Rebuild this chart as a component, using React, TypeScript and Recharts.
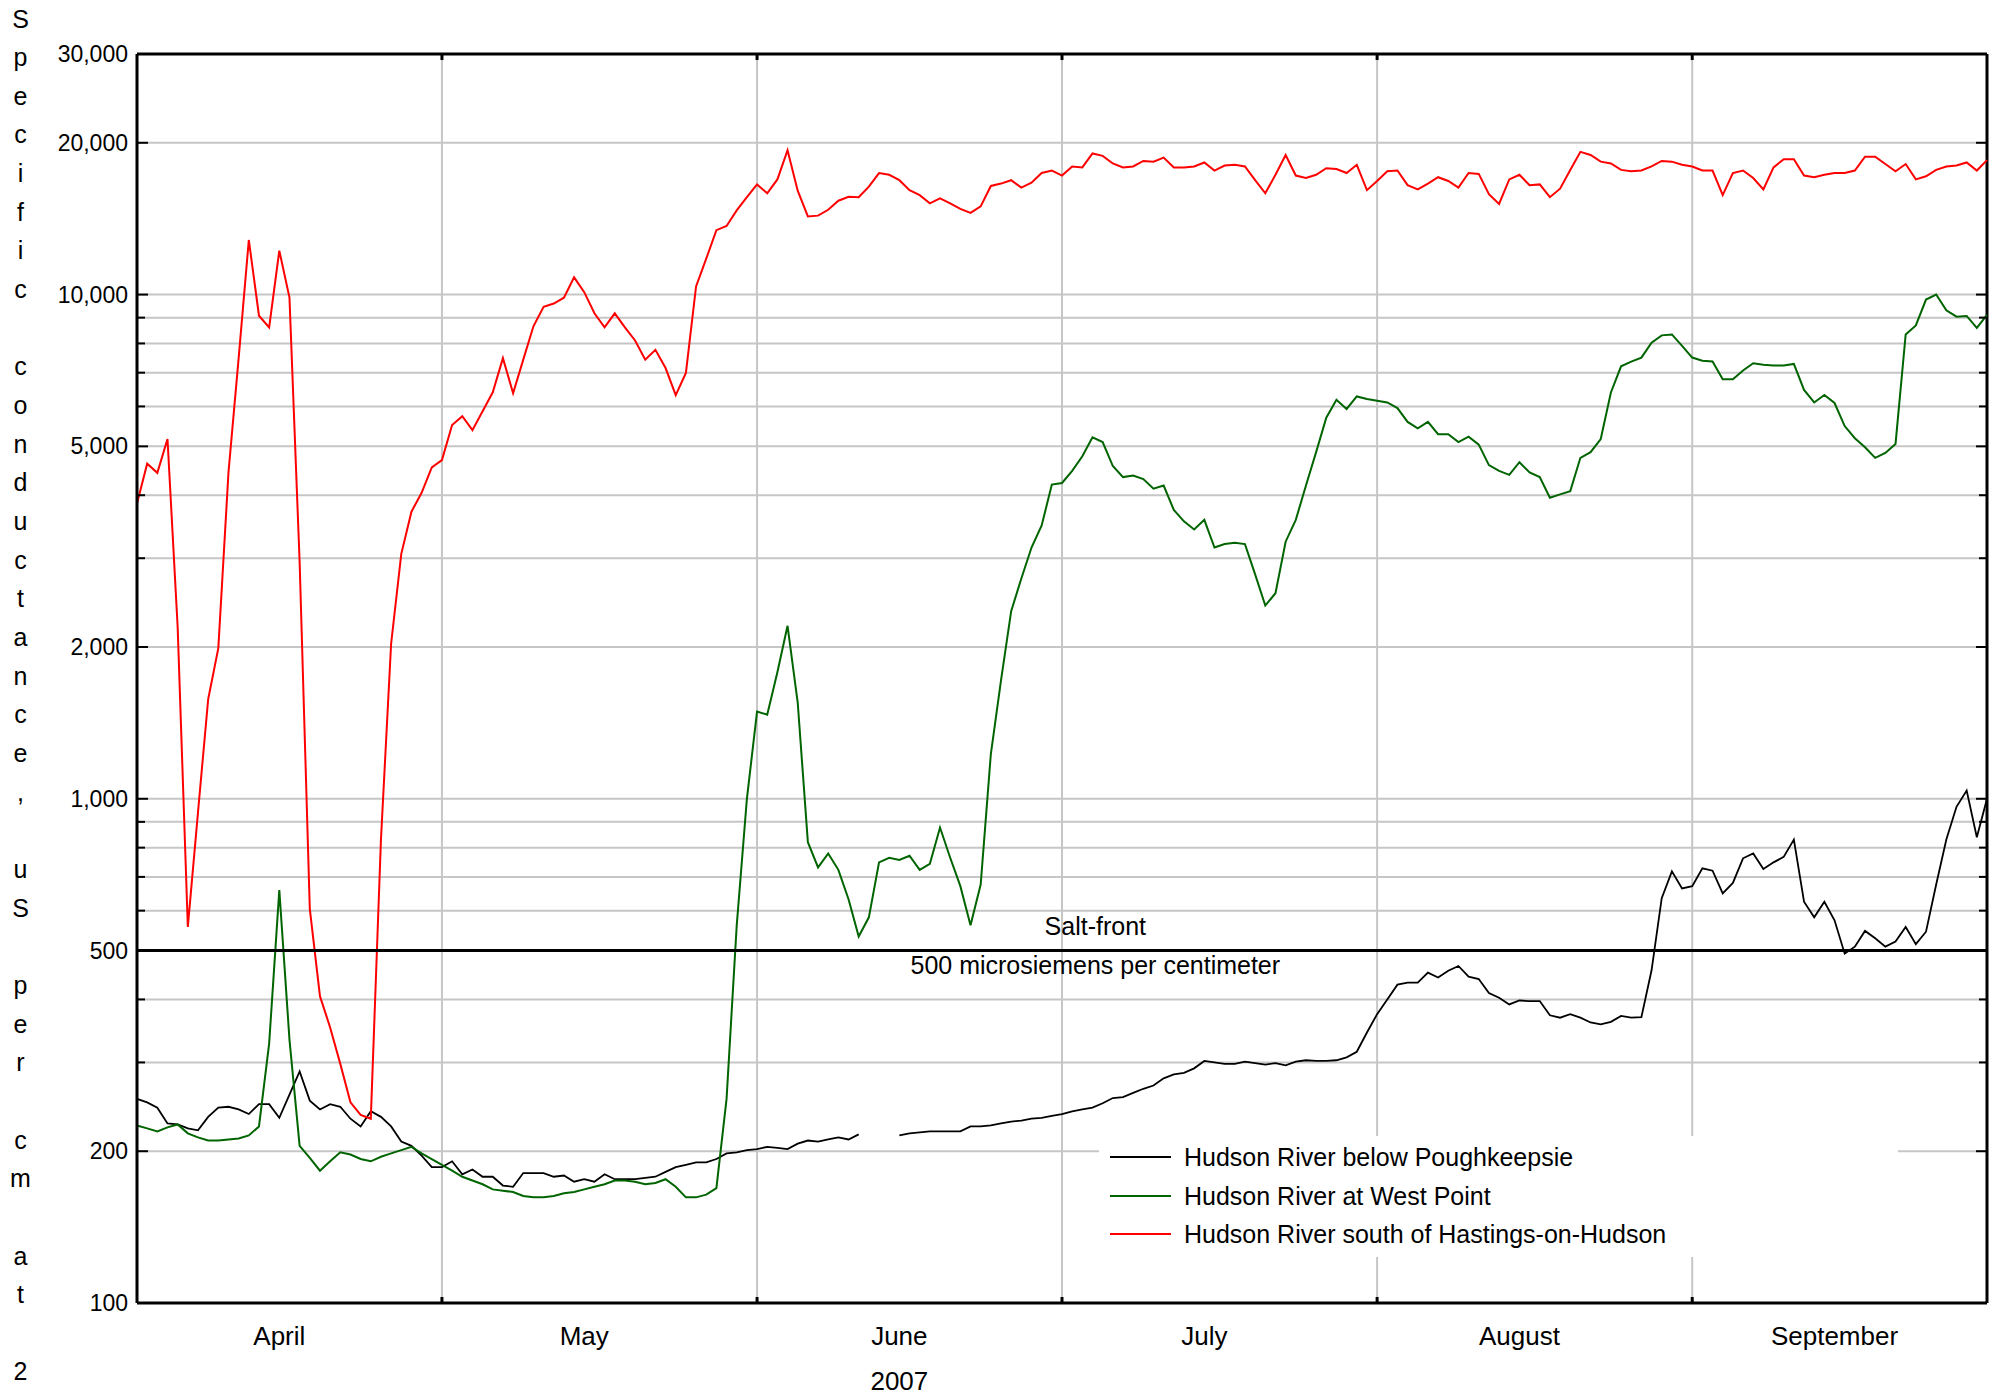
import { LineChart, Line, XAxis, YAxis, CartesianGrid, ReferenceLine, Legend } from 'recharts';

// daily values, April 1 (day 0) to September 30 (day 182), 2007
const POUGHKEEPSIE: (number | null)[] = [
  254, 250, 244, 227, 226, 222, 220, 234, 244, 245,
  242, 237, 248, 248, 233, 259, 288, 252, 242, 248,
  245, 232, 224, 240, 234, 224, 209, 205, 196, 186,
  186, 191, 180, 184, 178, 178, 171, 170, 181, 181,
  181, 178, 179, 174, 176, 174, 180, 176, 176, 176,
  177, 178, 182, 186, 188, 190, 190, 193, 198, 199,
  201, 202, 204, 203, 202, 207, 210, 209, 211, 213,
  211, 216, null, null, null, 215, 217, 218, 219, 219,
  219, 219, 224, 224, 225, 227, 229, 230, 232, 233,
  235, 237, 240, 242, 244, 249, 255, 256, 261, 266,
  270, 279, 284, 286, 292, 302, 300, 298, 298, 301,
  299, 297, 299, 296, 301, 303, 302, 302, 303, 307,
  315, 344, 374, 400, 428, 432, 432, 452, 442, 456,
  466, 444, 439, 412, 403, 391, 398, 397, 397, 372,
  368, 374, 368, 360, 357, 361, 371, 368, 369, 457,
  635, 718, 664, 671, 728, 720, 649, 681, 762, 779,
  726, 748, 767, 830, 625, 582, 625, 574, 493, 509,
  547, 529, 509, 521, 557, 515, 545, 676, 830, 964,
  1038, 839, 1000,
];

const WEST_POINT: number[] = [
  225, 222, 219, 223, 226, 217, 213, 210, 210, 211,
  212, 215, 224, 327, 659, 333, 205, 194, 183, 191,
  199, 197, 193, 191, 195, 198, 201, 204, 198, 193,
  188, 183, 178, 175, 172, 168, 167, 166, 163, 162,
  162, 163, 165, 166, 168, 170, 172, 175, 175, 174,
  172, 173, 176, 170, 162, 162, 164, 169, 254, 561,
  1000, 1490, 1468, 1783, 2203, 1552, 820, 731, 779, 723,
  632, 533, 582, 748, 764, 756, 771, 723, 743, 877,
  764, 671, 561, 676, 1227, 1718, 2356, 2735, 3150, 3483,
  4200, 4230, 4470, 4780, 5210, 5100, 4570, 4345, 4375, 4305,
  4120, 4180, 3740, 3550, 3420, 3575, 3150, 3200, 3220, 3200,
  2786, 2417, 2557, 3235, 3575, 4180, 4870, 5700, 6185, 5930,
  6280, 6210, 6160, 6110, 5955, 5590, 5430, 5590, 5285, 5285,
  5100, 5225, 5040, 4590, 4470, 4390, 4650, 4440, 4345, 3955,
  4015, 4075, 4745, 4870, 5170, 6395, 7205, 7365, 7500, 8030,
  8300, 8335, 7910, 7500, 7390, 7365, 6790, 6790, 7070, 7310,
  7260, 7230, 7230, 7285, 6470, 6110, 6320, 6095, 5485, 5190,
  4980, 4745, 4850, 5055, 8335, 8685, 9775, 10000, 9310, 9040,
  9070, 8585, 9110,
];

const HASTINGS: number[] = [
  3850, 4620, 4430, 5170, 2190, 557, 940, 1575, 1990, 4440,
  7480, 12830, 9080, 8610, 12220, 9860, 2945, 605, 406, 352,
  298, 250, 236, 232, 830, 2030, 3060, 3710, 4045, 4540,
  4695, 5510, 5740, 5385, 5870, 6400, 7480, 6370, 7430, 8650,
  9460, 9600, 9860, 10820, 10110, 9180, 8610, 9180, 8610, 8110,
  7430, 7770, 7150, 6320, 6990, 10380, 11780, 13420, 13680, 14690,
  15600, 16540, 15880, 16920, 19330, 16070, 14290, 14340, 14730, 15350,
  15630, 15600, 16370, 17420, 17280, 16860, 16110, 15750, 15170, 15520,
  15170, 14790, 14520, 14960, 16420, 16600, 16860, 16300, 16670, 17420,
  17620, 17220, 17950, 17870, 19050, 18840, 18200, 17870, 17950, 18410,
  18350, 18690, 17870, 17870, 17950, 18280, 17620, 18030, 18090, 17950,
  16860, 15880, 17280, 18920, 17220, 17030, 17280, 17810, 17740, 17420,
  18090, 16110, 16800, 17560, 17620, 16480, 16170, 16600, 17090, 16800,
  16300, 17420, 17350, 15820, 15130, 16920, 17280, 16480, 16540, 15600,
  16220, 17670, 19190, 18920, 18350, 18200, 17670, 17560, 17620, 17950,
  18410, 18350, 18090, 17950, 17620, 17620, 15750, 17420, 17620, 17030,
  16170, 17870, 18560, 18560, 17220, 17090, 17280, 17420, 17420, 17620,
  18770, 18770, 18150, 17560, 18150, 16920, 17160, 17670, 17950, 18030,
  18280, 17620, 18480,
];

const MONTHS = ['April', 'May', 'June', 'July', 'August', 'September'];
const MONTH_START_DAYS = [30, 61, 91, 122, 153];
const MONTH_LABEL_DAYS = [14, 44, 75, 105, 136, 167];
const YEAR_LABEL = '2007';

const Y_TICKS = [
  100, 200, 300, 400, 500, 600, 700, 800, 900,
  1000, 2000, 3000, 4000, 5000, 6000, 7000, 8000, 9000,
  10000, 20000, 30000,
];
const Y_LABELS = [100, 200, 500, 1000, 2000, 5000, 10000, 20000, 30000];
const SALT_FRONT = 500;

// the stacked title runs off the bottom of the page in the original
const Y_TITLE = 'Specific conductance, uS per cm at 25 degrees Celsius';

const SERIES = [
  { key: 'poughkeepsie', name: 'Hudson River below Poughkeepsie', color: '#000000', width: 1.8 },
  { key: 'westPoint', name: 'Hudson River at West Point', color: '#006400', width: 2 },
  { key: 'hastings', name: 'Hudson River south of Hastings-on-Hudson', color: '#ff0000', width: 2 },
];

const data = HASTINGS.map((h, day) => ({
  day,
  poughkeepsie: POUGHKEEPSIE[day],
  westPoint: WEST_POINT[day],
  hastings: h,
}));

const W = 2001;
const H = 1395;
const PLOT_LEFT = 137;
const PLOT_RIGHT = 1987;
const PLOT_TOP = 54;
const PLOT_BOTTOM = 1303;
const FONT = '"Liberation Sans", Arial, sans-serif';
const GRID = '#c6c6c6';
const TITLE_STEP = 38.66;

function YTick(props: any) {
  const { y, payload } = props;
  const v = payload.value as number;
  const major = Y_LABELS.includes(v);
  const len = major ? 11 : 8;
  return (
    <g>
      <line x1={PLOT_LEFT} x2={PLOT_LEFT + len} y1={y} y2={y} stroke="#000" strokeWidth={2} />
      <line x1={PLOT_RIGHT - len} x2={PLOT_RIGHT} y1={y} y2={y} stroke="#000" strokeWidth={2} />
      {major && (
        <text x={PLOT_LEFT - 9} y={y} dy="0.35em" textAnchor="end" fontFamily={FONT} fontSize={23} fill="#000">
          {v.toLocaleString('en-US')}
        </text>
      )}
    </g>
  );
}

function XTick(props: any) {
  const { x, payload } = props;
  const v = payload.value as number;
  const i = MONTH_LABEL_DAYS.indexOf(v);
  if (i >= 0) {
    return (
      <g>
        <text x={x} y={PLOT_BOTTOM + 42} textAnchor="middle" fontFamily={FONT} fontSize={26} fill="#000">
          {MONTHS[i]}
        </text>
        {i === 2 && (
          <text x={x} y={PLOT_BOTTOM + 87} textAnchor="middle" fontFamily={FONT} fontSize={26} fill="#000">
            {YEAR_LABEL}
          </text>
        )}
      </g>
    );
  }
  return (
    <g>
      <line x1={x} x2={x} y1={PLOT_BOTTOM} y2={PLOT_BOTTOM - 6} stroke="#000" strokeWidth={3} />
      <line x1={x} x2={x} y1={PLOT_TOP} y2={PLOT_TOP + 6} stroke="#000" strokeWidth={3} />
    </g>
  );
}

function SaltLabel(props: any) {
  const vb = props.viewBox || {};
  const cx = PLOT_LEFT + (PLOT_RIGHT - PLOT_LEFT) * 0.518;
  const y = vb.y ?? 951;
  return (
    <g>
      <text x={cx} y={y - 16} textAnchor="middle" fontFamily={FONT} fontSize={25} fill="#000">
        Salt-front
      </text>
      <text x={cx} y={y + 23} textAnchor="middle" fontFamily={FONT} fontSize={25} fill="#000">
        500 microsiemens per centimeter
      </text>
    </g>
  );
}

function LegendBox() {
  return (
    <div style={{ width: 799, height: 121, background: '#fff', fontFamily: FONT, fontSize: 25, color: '#000' }}>
      {SERIES.map((s, i) => (
        <div
          key={s.key}
          style={{ position: 'absolute', left: 11, top: 21 + i * 38.5 - 15, height: 30, display: 'flex', alignItems: 'center' }}
        >
          <div style={{ width: 61, height: 0, borderTop: `2px solid ${s.color}` }} />
          <span style={{ marginLeft: 13, whiteSpace: 'nowrap', lineHeight: '30px' }}>{s.name}</span>
        </div>
      ))}
    </div>
  );
}

export default function App() {
  // only the characters that fit on the page are shown, as in the original
  const fit = Math.floor(H / TITLE_STEP);
  const titleChars = Array.from(Y_TITLE).slice(0, fit);
  return (
    <div style={{ position: 'relative', width: W, height: H, overflow: 'hidden', background: '#fff' }}>
      <style>{'body{margin:0}'}</style>
      <LineChart width={W} height={H} data={data} margin={{ top: PLOT_TOP, right: W - PLOT_RIGHT, bottom: 0, left: 0 }}>
        <CartesianGrid vertical={false} stroke={GRID} strokeWidth={2} />
        {MONTH_START_DAYS.map((d) => (
          <ReferenceLine key={d} x={d} stroke={GRID} strokeWidth={2} />
        ))}
        <XAxis
          dataKey="day"
          type="number"
          domain={[0, 182]}
          ticks={[...MONTH_LABEL_DAYS, ...MONTH_START_DAYS].sort((a, b) => a - b)}
          interval={0}
          height={H - PLOT_BOTTOM}
          tickLine={false}
          axisLine={{ stroke: '#000', strokeWidth: 3 }}
          tick={<XTick />}
        />
        <YAxis
          type="number"
          scale="log"
          domain={[100, 30000]}
          allowDataOverflow
          ticks={Y_TICKS}
          interval={0}
          width={PLOT_LEFT}
          tickLine={false}
          axisLine={{ stroke: '#000', strokeWidth: 3 }}
          tick={<YTick />}
        />
        <ReferenceLine y={30000} stroke="#000" strokeWidth={3} />
        <ReferenceLine x={182} stroke="#000" strokeWidth={3} />
        {SERIES.map((s) => (
          <Line
            key={s.key}
            type="linear"
            dataKey={s.key}
            name={s.name}
            stroke={s.color}
            strokeWidth={s.width}
            dot={false}
            activeDot={false}
            connectNulls={false}
            isAnimationActive={false}
          />
        ))}
        <ReferenceLine y={SALT_FRONT} stroke="#000" strokeWidth={3} label={<SaltLabel />} />
        <Legend
          layout="vertical"
          align="center"
          verticalAlign="middle"
          content={<LegendBox />}
          wrapperStyle={{ position: 'absolute', left: 1099, top: 1136, width: 799, height: 121, margin: 0 }}
        />
      </LineChart>
      <div style={{ position: 'absolute', left: 0, top: -0.5, width: 41, fontFamily: FONT, fontSize: 25, color: '#000', textAlign: 'center' }}>
        {titleChars.map((c, i) => (
          <div key={i} style={{ height: TITLE_STEP, lineHeight: `${TITLE_STEP}px` }}>
            {c === ' ' ? '\u00a0' : c}
          </div>
        ))}
      </div>
    </div>
  );
}
